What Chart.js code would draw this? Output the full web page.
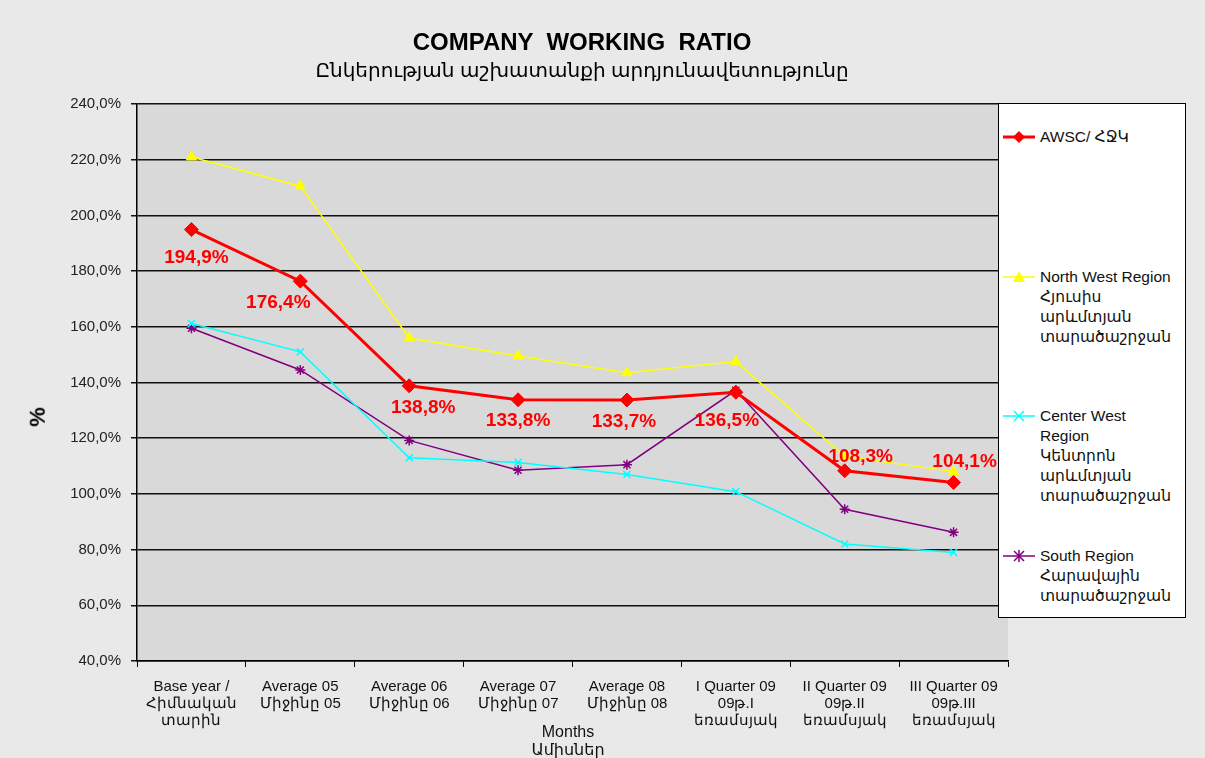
<!DOCTYPE html>
<html>
<head>
<meta charset="utf-8">
<script src="https://cdn.jsdelivr.net/npm/chart.js@4.4.0/dist/chart.umd.min.js"></script>
<style>
    body { margin: 0; background: #e9e9e9; }
    #wrap { position: relative; width: 1205px; height: 758px; overflow: hidden;
        background: #e9e9e9; font-family: Arial, 'Liberation Sans', 'DejaVu Sans', sans-serif; }
    canvas { position: absolute; left: 0; top: 0; }
    .title { position: absolute; left: 0; width: 1164px; text-align: center; font-weight: bold;
        font-size: 24px; color: #000; white-space: pre; }
    #ytitle { position: absolute; left: 28px; top: 404px; font-weight: bold; font-size: 22px;
        transform: rotate(-90deg); color: #000; }
    #xtitle { position: absolute; left: 468px; width: 200px; top: 723px; text-align: center;
        font-size: 16px; line-height: 18px; color: #111; }
    #legend { position: absolute; left: 998px; top: 103px; width: 188px; height: 515px;
        background: #fff; border: 1px solid #000; box-sizing: border-box; }
    .item { position: absolute; left: 4px; }
    .item svg { position: absolute; left: 0; top: 0; }
    .item div { position: absolute; left: 37px; top: -10px; font-size: 15.5px; line-height: 20px;
        color: #111; white-space: nowrap; }
</style>
</head>
<body>
<div id="wrap">
    <canvas id="ratioChart" width="1205" height="758"></canvas>
    <div class="title" style="top:28px">COMPANY  WORKING  RATIO</div>
    <div class="title" style="top:58px; font-weight:normal; font-size:20px">Ընկերության աշխատանքի արդյունավետությունը</div>
    <div id="ytitle">%</div>
    <div id="xtitle">Months<br>Ամիսներ</div>
    <div id="legend"></div>
</div>
<script>
const categories = [
    ['Base year /', 'Հիմնական', 'տարին'],
    ['Average 05', 'Միջինը 05'],
    ['Average 06', 'Միջինը 06'],
    ['Average 07', 'Միջինը 07'],
    ['Average 08', 'Միջինը 08'],
    ['I Quarter 09', '09թ.I', 'եռամսյակ'],
    ['II Quarter 09', '09թ.II', 'եռամսյակ'],
    ['III Quarter 09', '09թ.III', 'եռամսյակ']
];
const awsc = [194.9, 176.4, 138.8, 133.8, 133.7, 136.5, 108.3, 104.1];
const northWest = [221.0, 210.5, 156.0, 149.5, 143.5, 147.5, 113.5, 108.0];
const centerWest = [161.2, 151.0, 113.0, 111.3, 107.0, 100.8, 82.0, 79.0];
const south = [159.5, 144.5, 119.2, 108.5, 110.5, 137.2, 94.5, 86.2];
const yTicks = [40, 60, 80, 100, 120, 140, 160, 180, 200, 220, 240];

const legendItems = [
    { lines: ['AWSC/ ՀՋԿ'], color: '#ff0000', marker: 'diamond', top: 33, width: 3 },
    { lines: ['North West Region', 'Հյուսիս', 'արևմտյան', 'տարածաշրջան'], color: '#ffff00', marker: 'triangle', top: 173, width: 1.5 },
    { lines: ['Center West', 'Region', 'Կենտրոն', 'արևմտյան', 'տարածաշրջան'], color: '#00ffff', marker: 'x', top: 312, width: 1.5 },
    { lines: ['South Region', 'Հարավային', 'տարածաշրջան'], color: '#800080', marker: 'star', top: 452, width: 1.5 }
];

function fmt(v) {
    return v.toFixed(1).replace('.', ',') + '%';
}

function markerSvg(item) {
    const c = item.color;
    let m = '';
    if (item.marker === 'diamond') m = `<polygon points="16,-6 22,0 16,6 10,0" fill="${c}"/>`;
    if (item.marker === 'triangle') m = `<polygon points="16,-6 22,5 10,5" fill="${c}"/>`;
    if (item.marker === 'x') m = `<path d="M11,-5 L21,5 M21,-5 L11,5" stroke="${c}" stroke-width="1.5"/>`;
    if (item.marker === 'star') m = `<path d="M11,-5 L21,5 M21,-5 L11,5 M16,-6 L16,6" stroke="${c}" stroke-width="1.5"/>`;
    return `<svg width="34" height="14" viewBox="0 -7 34 14" style="top:-7px">
        <line x1="0" y1="0" x2="32" y2="0" stroke="${c}" stroke-width="${item.width}"/>${m}</svg>`;
}

const legendBox = document.getElementById('legend');
legendItems.forEach(item => {
    const el = document.createElement('div');
    el.className = 'item';
    el.style.top = item.top + 'px';
    el.innerHTML = markerSvg(item) + '<div>' + item.lines.join('<br>') + '</div>';
    legendBox.appendChild(el);
});

// gray plot background
const plotBackground = {
    id: 'plotBackground',
    beforeDraw(chart) {
        const a = chart.chartArea;
        const ctx = chart.ctx;
        ctx.save();
        ctx.fillStyle = '#d9d9d9';
        ctx.fillRect(a.left, a.top, a.right - a.left, a.bottom - a.top);
        ctx.restore();
    }
};

// red value labels for the AWSC series
const labelOffsets = [[5, 28], [-22, 22], [14, 22], [0, 21], [-3, 22], [-9, 29], [16, -14], [11, -21]];
const valueLabels = {
    id: 'valueLabels',
    afterDatasetsDraw(chart) {
        const ctx = chart.ctx;
        const meta = chart.getDatasetMeta(0);
        ctx.save();
        ctx.font = 'bold 19px Arial, "Liberation Sans", sans-serif';
        ctx.fillStyle = '#ff0000';
        ctx.textAlign = 'center';
        ctx.textBaseline = 'middle';
        meta.data.forEach((pt, i) => {
            const o = labelOffsets[i];
            ctx.fillText(fmt(awsc[i]), pt.x + o[0], pt.y + o[1]);
        });
        ctx.restore();
    }
};

const ctx = document.getElementById('ratioChart').getContext('2d');
new Chart(ctx, {
    type: 'line',
    data: {
        labels: categories,
        datasets: [
            {
                label: 'AWSC/ ՀՋԿ',
                data: awsc,
                borderColor: '#ff0000',
                backgroundColor: '#ff0000',
                borderWidth: 3,
                pointStyle: 'rectRot',
                pointRadius: 7,
                pointBorderWidth: 1,
                order: 1
            },
            {
                label: 'North West Region',
                data: northWest,
                borderColor: '#ffff00',
                backgroundColor: '#ffff00',
                borderWidth: 1.5,
                pointStyle: 'triangle',
                pointRadius: 6,
                pointBorderWidth: 1,
                order: 2
            },
            {
                label: 'Center West Region',
                data: centerWest,
                borderColor: '#00ffff',
                backgroundColor: '#00ffff',
                borderWidth: 1.5,
                pointStyle: 'crossRot',
                pointRadius: 5,
                pointBorderWidth: 1.5,
                order: 3
            },
            {
                label: 'South Region',
                data: south,
                borderColor: '#800080',
                backgroundColor: '#800080',
                borderWidth: 1.5,
                pointStyle: 'star',
                pointRadius: 5,
                pointBorderWidth: 1.5,
                order: 4
            }
        ]
    },
    options: {
        responsive: false,
        animation: false,
        layout: { padding: { left: 0, right: 197, top: 104, bottom: 0 } },
        plugins: {
            legend: { display: false },
            tooltip: { enabled: false },
            title: { display: false }
        },
        scales: {
            x: {
                offset: true,
                afterFit: function(scale) { scale.height = 97; },
                grid: {
                    offset: true,
                    drawOnChartArea: false,
                    drawTicks: true,
                    tickLength: 6,
                    color: '#000'
                },
                border: { color: '#000', width: 1.5 },
                ticks: {
                    color: '#111',
                    maxRotation: 0,
                    autoSkip: false,
                    padding: 11,
                    font: { family: '"Liberation Sans Narrow", Arial, sans-serif', size: 15, lineHeight: 1.15 }
                }
            },
            y: {
                min: 40,
                max: 240,
                afterFit: function(scale) { scale.width = 137; },
                afterBuildTicks: function(scale) {
                    scale.ticks = yTicks.map(v => ({ value: v }));
                },
                grid: {
                    color: '#111',
                    lineWidth: 1.5,
                    tickLength: 6
                },
                border: { color: '#000', width: 1.5 },
                ticks: {
                    color: '#222',
                    padding: 10,
                    font: { family: 'Arial, "Liberation Sans", sans-serif', size: 15 },
                    callback: function(value) { return fmt(value); }
                }
            }
        }
    },
    plugins: [plotBackground, valueLabels]
});
</script>
</body>
</html>
